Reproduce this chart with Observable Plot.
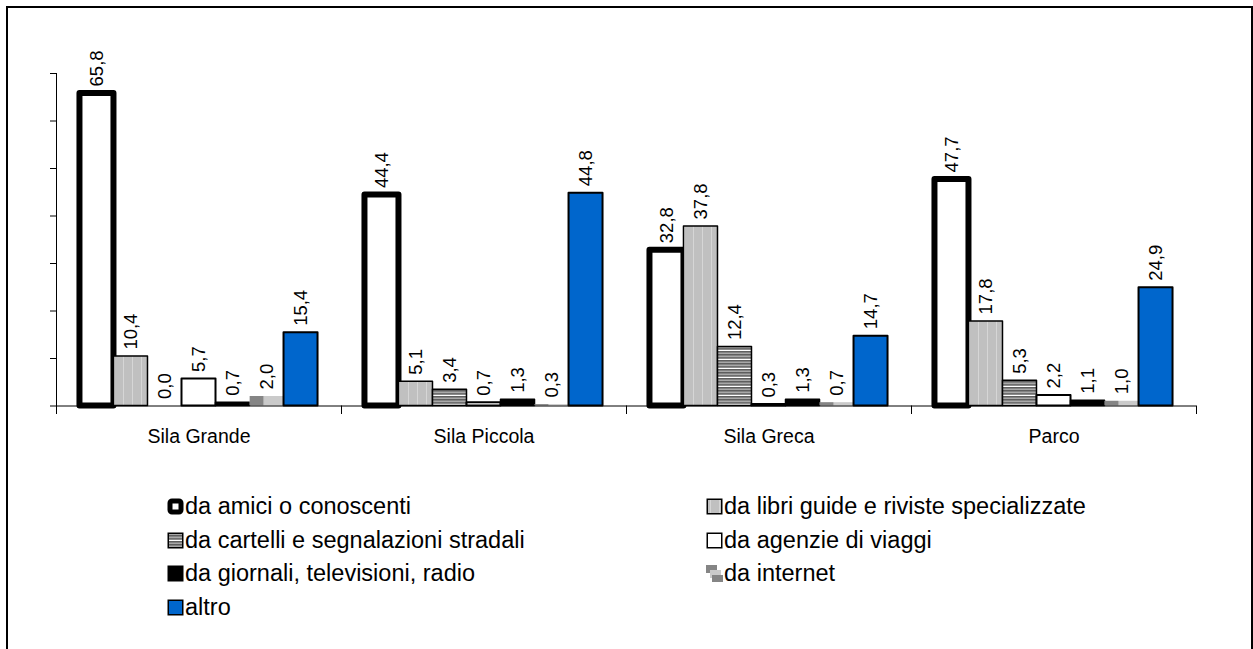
<!DOCTYPE html>
<html><head><meta charset="utf-8">
<script src="https://cdn.jsdelivr.net/npm/d3@7"></script>
<script src="https://cdn.jsdelivr.net/npm/@observablehq/plot@0.6"></script>
<style>
html,body{margin:0;padding:0;background:#fff;overflow:hidden;}
body{width:1253px;height:649px;position:relative;font-family:"Liberation Sans",Arial,sans-serif;}
#frame{position:absolute;left:6px;top:6px;width:1247px;height:700px;border:2px solid #000;border-bottom:none;box-sizing:border-box;}
#chart{position:absolute;left:0;top:0;}
#legend{position:absolute;left:167px;top:490px;display:grid;grid-template-columns:539px auto;grid-auto-rows:33.5px;font-size:23.5px;color:#000;}
.item{display:flex;align-items:center;white-space:nowrap;}
.item svg{margin-right:1px;flex:none;}
</style></head>
<body>
<svg width="0" height="0" style="position:absolute">
<defs>
 <pattern id="pLibri" width="9" height="9" patternUnits="userSpaceOnUse">
   <rect width="9" height="9" fill="#c0c0c0"/>
   <rect x="4" width="1" height="9" fill="#d6d6d6"/>
 </pattern>
 <pattern id="pCartelli" width="6" height="9" patternUnits="userSpaceOnUse">
   <rect width="6" height="9" fill="#a8a8a8"/>
   <rect y="0" width="6" height="1.5" fill="#5e5e5e"/>
   <rect y="3" width="6" height="1.5" fill="#5e5e5e"/>
   <rect y="6" width="6" height="1.5" fill="#6e6e6e"/>
   <rect y="8" width="6" height="1" fill="#ffffff"/>
 </pattern>
 <pattern id="pInternet" width="1" height="1" patternUnits="objectBoundingBox" patternContentUnits="objectBoundingBox">
   <rect width="0.42" height="1" fill="#858585"/>
   <rect x="0.42" width="0.58" height="1" fill="#cacaca"/>
 </pattern>
</defs></svg>
<div id="frame"></div>
<div id="chart"></div>
<div id="legend"></div>
<script>
const categories = ["Sila Grande", "Sila Piccola", "Sila Greca", "Parco"];
const seriesNames = [
  "da amici o conoscenti",
  "da libri guide e riviste specializzate",
  "da cartelli e segnalazioni stradali",
  "da agenzie di viaggi",
  "da giornali, televisioni, radio",
  "da internet",
  "altro"
];
const amici    = [65.8, 44.4, 32.8, 47.7];
const libri    = [10.4, 5.1, 37.8, 17.8];
const cartelli = [0.0, 3.4, 12.4, 5.3];
const agenzie  = [5.7, 0.7, 0.3, 2.2];
const giornali = [0.7, 1.3, 1.3, 1.1];
const internet = [2.0, 0.3, 0.7, 1.0];
const altro    = [15.4, 44.8, 14.7, 24.9];
const yTicks   = [0, 10, 20, 30, 40, 50, 60, 70];

const seriesValues = [amici, libri, cartelli, agenzie, giornali, internet, altro];
const data = categories.flatMap((c, i) =>
  seriesNames.map((s, j) => ({cat: c, series: s, value: seriesValues[j][i]})));

const styles = [
  {fill: "#ffffff", stroke: "#000000", strokeWidth: 6},
  {fill: "url(#pLibri)", stroke: "#000000", strokeWidth: 1.5},
  {fill: "url(#pCartelli)", stroke: "#000000", strokeWidth: 1.5},
  {fill: "#ffffff", stroke: "#000000", strokeWidth: 2},
  {fill: "#000000", stroke: "#000000", strokeWidth: 1.5},
  {fill: "url(#pInternet)", stroke: "none"},
  {fill: "#0066cc", stroke: "#000000", strokeWidth: 2}
];

const fmt = v => v.toFixed(1).replace(".", ",");

const bars = seriesNames.map((s, j) =>
  Plot.barY(data.filter(d => d.series === s), {
    fx: "cat", x: "series", y: "value", strokeLinejoin: "round", ...styles[j]
  }));

const chart = Plot.plot({
  width: 1253,
  height: 460,
  marginLeft: 54,
  marginRight: 56,
  marginTop: 73,
  marginBottom: 47,
  style: {fontFamily: "Liberation Sans, Arial, sans-serif", fontSize: "18px", color: "#000", background: "transparent", overflow: "visible"},
  fx: {domain: categories, padding: 0, axis: null, label: null},
  x: {domain: seriesNames, paddingInner: 0, paddingOuter: 0.69, round: false, axis: null},
  y: {domain: [0, 70], insetBottom: 7.5, axis: null},
  marks: [
    Plot.frame({anchor: "left", facetAnchor: "left", stroke: "#000"}),
    Plot.frame({anchor: "left", insetTop: 332.5, stroke: "#000"}),
    Plot.frame({anchor: "right", facetAnchor: "right", insetTop: 332.5, stroke: "#000"}),
    Plot.axisY(yTicks, {tickSize: 6, tickFormat: () => "", label: null, stroke: "#000"}),
    ...bars,
    Plot.ruleY([0], {stroke: "#000"}),
    Plot.text(data, {fx: "cat", x: "series", y: "value", text: d => fmt(d.value),
      rotate: -90, textAnchor: "start", dy: -7, fontSize: 18.5, fill: "#000"}),
    Plot.axisFx({anchor: "bottom", tickSize: 0, tickPadding: 16, fontSize: 19.5, label: null})
  ]
});
document.getElementById("chart").appendChild(chart);

// legend
const legendOrder = [0, 1, 2, 3, 4, 5, 6];
const legend = document.getElementById("legend");
function marker(j) {
  const ns = "http://www.w3.org/2000/svg";
  const svg = document.createElementNS(ns, "svg");
  svg.setAttribute("width", 17); svg.setAttribute("height", 17);
  if (j === 5) {
    svg.innerHTML = '<rect x="0" y="0" width="11" height="8" fill="#858585"/>' +
      '<rect x="4" y="5" width="11" height="8" fill="#cacaca"/>' +
      '<rect x="6" y="10" width="11" height="7" fill="#858585"/>';
  } else {
    const st = styles[j];
    const sw = j === 0 ? 5 : 1.5;
    const off = sw / 2 + 0.5;
    svg.innerHTML = `<rect x="${off}" y="${off}" width="${16 - 2 * off + 1}" height="${16 - 2 * off + 1}" rx="${j === 0 ? 2 : 0}" fill="${st.fill}" stroke="#000" stroke-width="${sw}"/>`;
  }
  return svg;
}
legendOrder.forEach(j => {
  const it = document.createElement("div");
  it.className = "item";
  it.appendChild(marker(j));
  const t = document.createElement("span");
  t.textContent = seriesNames[j];
  it.appendChild(t);
  legend.appendChild(it);
});
</script>
</body></html>
